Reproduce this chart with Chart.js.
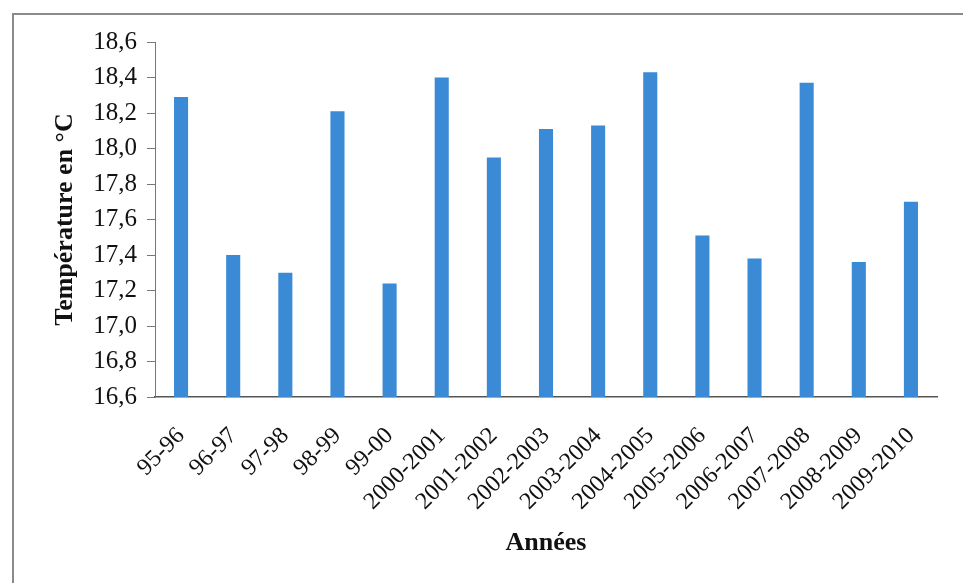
<!DOCTYPE html>
<html>
<head>
<meta charset="utf-8">
<script src="https://cdn.jsdelivr.net/npm/chart.js@4"></script>
<style>
  html, body { margin: 0; padding: 0; background: #fff; }
  #frame { position: absolute; left: 12px; top: 13px; width: 951px; height: 570px;
           border-left: 2px solid #8a8a8a; border-top: 2px solid #8a8a8a; }
  #wrap { position: absolute; left: 0; top: 0; width: 963px; height: 583px; }
</style>
</head>
<body>
<div id="frame"></div>
<div id="wrap"><canvas id="chart"></canvas></div>
<script>
const annees = ["95-96", "96-97", "97-98", "98-99", "99-00", "2000-2001", "2001-2002",
  "2002-2003", "2003-2004", "2004-2005", "2005-2006", "2006-2007", "2007-2008",
  "2008-2009", "2009-2010"]
const temperatures = [18.29, 17.40, 17.30, 18.21, 17.24, 18.40, 17.95,
  18.11, 18.13, 18.43, 17.51, 17.38, 18.37, 17.36, 17.70]
const yMin = 16.6
const yMax = 18.6
const yStep = 0.2

const serif = "'Liberation Serif', 'Times New Roman', serif"

new Chart(document.getElementById("chart"), {
  type: "bar",
  data: {
    labels: annees,
    datasets: [{
      label: "Température",
      data: temperatures,
      backgroundColor: "#3a8ad6",
      borderWidth: 0,
      barPercentage: 0.27,
      categoryPercentage: 1
    }]
  },
  options: {
    responsive: true,
    maintainAspectRatio: false,
    animation: false,
    layout: { padding: { top: 42, right: 26, left: 46, bottom: 20 } },
    plugins: {
      legend: { display: false },
      tooltip: { enabled: false }
    },
    scales: {
      x: {
        grid: { display: false },
        border: { color: "#555", width: 1.5 },
        ticks: {
          autoSkip: false,
          minRotation: 45,
          maxRotation: 45,
          color: "#111",
          font: { family: serif, size: 24 },
          padding: 17
        },
        title: {
          display: true,
          text: "Années",
          color: "#111",
          font: { family: serif, size: 26, weight: "bold" },
          padding: { top: 4, bottom: 4 }
        },
        afterFit(scale) { scale.height = 166 }
      },
      y: {
        min: yMin,
        max: yMax,
        grid: { drawOnChartArea: false, tickLength: 8, color: "#777" },
        border: { color: "#777", width: 1 },
        ticks: {
          stepSize: yStep,
          color: "#111",
          padding: 10,
          font: { family: serif, size: 25 },
          callback: v => v.toFixed(1).replace(".", ",")
        },
        title: {
          display: true,
          text: "Température en °C",
          color: "#111",
          font: { family: serif, size: 26, weight: "bold" },
          padding: { bottom: 2 }
        },
        afterFit(scale) { scale.width = 109 }
      }
    }
  }
})
</script>
</body>
</html>
